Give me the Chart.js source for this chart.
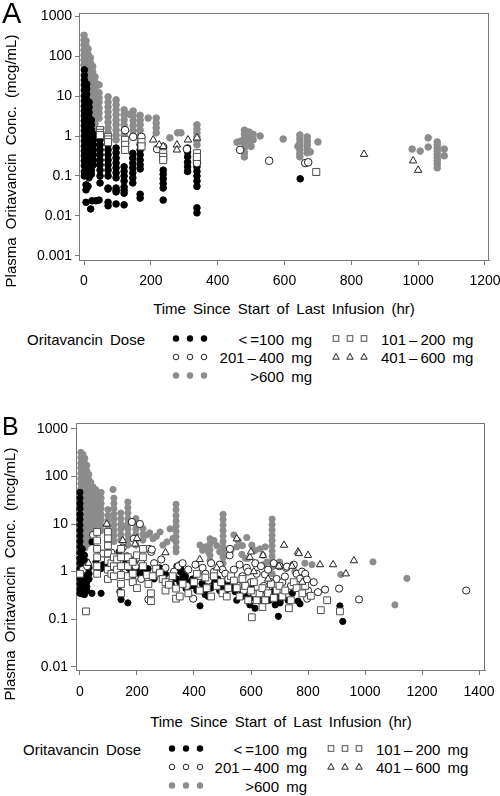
<!DOCTYPE html>
<html><head><meta charset="utf-8">
<script src="https://cdn.jsdelivr.net/npm/chart.js@4.4.1/dist/chart.umd.min.js"></script>
<style>
html,body{margin:0;padding:0;background:#fff;}
body{width:500px;height:796px;overflow:hidden;position:relative;font-family:"Liberation Sans",Arial,Helvetica,sans-serif;color:#000;}
.abs{position:absolute;white-space:nowrap;}
.t15{font-size:15px;line-height:18px;word-spacing:3px;}
.ytitle{width:300px;text-align:center;transform:rotate(-90deg);transform-origin:150px 9px;word-spacing:4px;}
canvas{position:absolute;left:0;}
#svgLeg{position:absolute;left:0;top:0;}
</style></head><body>
<canvas id="cA" width="500" height="300" style="top:0;width:500px;height:300px"></canvas>
<canvas id="cB" width="500" height="310" style="top:400px;width:500px;height:310px"></canvas>
<div class="abs" style="left:2px;top:-1px;font-size:29px;line-height:29px">A</div>
<div class="abs" style="left:2px;top:414px;font-size:25px;line-height:25px">B</div>
<div id="ytA" class="abs t15 ytitle"></div>
<div id="ytB" class="abs t15 ytitle"></div>
<div id="xtA" class="abs t15" style="top:300px;width:500px;left:34px;text-align:center"></div>
<div id="xtB" class="abs t15" style="top:713px;width:500px;left:31px;text-align:center"></div>
<div id="legA"></div>
<div id="legB"></div>
<svg id="svgLeg" width="500" height="796"></svg>
<script>
// ---------- text ----------
const yAxisTitle = 'Plasma Oritavancin Conc. (mcg/mL)';
const xAxisTitle = 'Time Since Start of Last Infusion (hr)';
const legendTitle = 'Oritavancin Dose';
const doseNames = ['<\u2009=100 mg', '101\u2009\u2013\u2009200 mg', '201\u2009\u2013\u2009400 mg', '401\u2009\u2013\u2009600 mg', '>600 mg'];

// ---------- ticks ----------
const xTicksA = [0, 200, 400, 600, 800, 1000, 1200];
const yTicksA = [0.001, 0.01, 0.1, 1, 10, 100, 1000];
const yTickLabelsA = ['0.001', '0.01', '0.1', '1', '10', '100', '1000'];
const xTicksB = [0, 200, 400, 600, 800, 1000, 1200, 1400];
const yTicksB = [0.01, 0.1, 1, 10, 100, 1000];
const yTickLabelsB = ['0.01', '0.1', '1', '10', '100', '1000'];

// ---------- data: [time (hr), [concentrations (mcg/mL)...]] ----------
// Panel A
const aLe100 = [
 [1,[45,33,25,19,14,10,7.5,5.6,4.2,3.2,2.4,1.8,1.35,1,0.75,0.56,0.42,0.32,0.24,0.18,0.13,0.1]],
 [8,[20,15,11,8,6,4.5,3.4,2.5,1.9,1.4,1.05,0.8,0.6,0.45,0.34,0.25,0.19,0.14,0.11]],
 [15,[7,5.2,3.9,2.9,2.2,1.6,1.2,0.9,0.68,0.5,0.38,0.28,0.21,0.16,0.12,0.09]],
 [22,[2.5,1.9,1.4,1.05,0.8,0.6,0.45,0.34,0.25,0.19,0.14,0.11]],
 [28,[1.1,0.8,0.6,0.45,0.34,0.25,0.19]],
 [48,[0.8,0.6,0.45,0.34,0.25,0.19,0.14,0.1,0.067]],
 [72,[0.6,0.45,0.34,0.25,0.19,0.14,0.1,0.05,0.047,0.022,0.018]],
 [96,[0.5,0.38,0.28,0.21,0.16,0.12,0.09,0.05,0.044,0.04,0.02]],
 [120,[0.17,0.13,0.1,0.075,0.053,0.044,0.037,0.019]],
 [146,[0.37,0.28,0.21,0.16,0.12,0.09,0.067]],
 [168,[0.6,0.45,0.34,0.25,0.19,0.15,0.035,0.028]],
 [6,[0.06,0.045,0.022]],[12,[0.055]],[20,[0.015]],[24,[0.024]],[36,[0.024]],[45,[0.025]],
 [237,[0.14,0.11,0.085,0.065,0.05,0.025]],
 [310,[0.5,0.4,0.3,0.22,0.17,0.13]],
 [338,[0.3,0.23,0.17,0.13,0.1,0.075,0.055,0.016,0.012]],
 [647,[0.085]]
];
const aSq101 = [
 [48,[1.4,1.2,1.06]],[72,[0.95,0.82,0.7]],[123,[0.8,0.6,0.45]],[172,[0.7,0.55]],
 [237,[0.37,0.3,0.25]],[338,[0.37,0.3]],[695,[0.126]]
];
const aCi201 = [
 [123,[1.4,0.67]],[147,[0.95]],[172,[0.95]],[219,[0.47]],[237,[0.53]],[308,[0.47]],
 [338,[0.25,0.21]],[467,[0.45]],[554,[0.24]],[662,[0.21]],[671,[0.22]]
];
const aTr401 = [
 [207,[0.8]],[225,[0.6]],[237,[0.55]],[278,[0.6,0.45]],[311,[0.8]],[338,[0.9]],
 [838,[0.35]],[985,[0.24]],[1000,[0.14]]
];
const aGt600 = [
 [0,[330,250,190,140,105,80,60]],
 [6,[240,180,135,100,75,56,42,32,24]],
 [12,[150,110,82,62,46,35,26,20,15,11,8]],
 [19,[90,68,50,38,28,21,16,12,9,7,5,3.8]],
 [26,[55,40,30,22,16,12,9,7,5,3.8,2.8]],
 [33,[30,22,16,12,9,7,5,3.8,2.8,2,1.5]],
 [45,[19,12,9,7,5,3.8,2.8]],
 [72,[9.5,7,5.3,4,3,2.2,1.6,1.2]],
 [96,[8,6,4.5,3.4,2.5,1.9,1.4,1.05,0.8]],
 [120,[4.5,3.4,2.5,1.9,1.4,1.05]],
 [135,[3.5]],
 [147,[4.2,3.2,2.4,1.8,1.35,1.0]],
 [168,[3.3,2.5,1.9,1.4,1.05,0.8,0.67]],
 [192,[2.8]],
 [216,[2.8,2.1,1.6,1.2]],
 [257,[0.9]],[280,[1.2]],[290,[1.2]],
 [338,[1.9,1.5,1.2,0.95,0.75,0.6]],
 [458,[0.7]],[470,[0.75]],
 [480,[1.4,1.1,0.85,0.65,0.5,0.38,0.3]],
 [494,[1.26,0.95,0.7]],[500,[0.55]],[506,[1.1,0.8]],[527,[1.0]],
 [596,[0.84]],[640,[0.55]],
 [646,[1.06,0.85,0.68,0.55,0.45,0.36,0.3]],
 [668,[0.95,0.75,0.6,0.47,0.38]],[677,[0.4]],[700,[0.71]],
 [982,[0.47]],[1006,[0.42]],[1030,[0.9,0.53]],
 [1057,[0.71,0.6,0.5,0.42,0.35,0.29,0.24,0.2,0.16]],
 [1078,[0.47,0.32]]
];
// Panel B
const bLe100 = [
 [0,[46,35,27,21,16,12.5,9.5,7.3,5.6,4.3,3.3,2.5,1.9,1.5,1.15,0.9,0.7,0.55,0.43,0.35]],
 [8,[3,2.3,1.8,1.4,1.1,0.85,0.66,0.52,0.42,0.34]],
 [16,[2.2,1.7,1.3,1.0,0.8,0.62,0.5,0.4,0.33]],
 [24,[1.6,1.2,0.95,0.75,0.6,0.48,0.4]],
 [32,[1.2,0.9,0.7]],
 [42,[4.2,0.35]],[56,[1.6]],[64,[1.3]],[74,[1.15,0.35]],[81,[1.4]],
 [98,[3.6,2.6,1.9,1.4]],[110,[1.2,0.8]],[125,[1.0]],
 [137,[2.6]],[150,[2.0]],[160,[1.5]],[170,[1.2]],[179,[1.0]],[144,[0.26]],[168,[0.22]],[140,[0.38]],
 [185,[0.8]],[190,[1.6]],[200,[1.2]],[210,[0.9]],[221,[1.0]],[239,[1.15]],[260,[0.7]],[280,[1.2]],
 [291,[0.87]],[300,[0.9]],[310,[0.75]],[320,[0.55]],[330,[1.0]],
 [337,[0.71]],[340,[1.3]],[350,[0.6]],[351,[1.4,1.0]],[355,[1.1]],[360,[0.75,0.9]],[370,[0.8,0.65]],
 [372,[0.44]],[380,[0.6]],[385,[0.5]],[386,[0.55]],[395,[0.7]],[400,[0.5]],[410,[0.4]],
 [421,[0.19]],[428,[0.56]],[439,[0.33]],[450,[0.3]],[460,[0.45]],[470,[0.6]],[484,[0.7,0.55]],[490,[0.4]],
 [502,[0.49]],[510,[0.35]],[520,[0.6]],[530,[0.5]],[544,[0.38]],[550,[0.25]],[560,[0.45]],[570,[0.35]],
 [580,[0.3]],[596,[0.27,0.2]],[600,[0.5]],[614,[0.17]],[620,[0.28]],[630,[0.3]],[640,[0.22]],[650,[0.4]],
 [656,[0.3]],[665,[0.25]],[677,[0.38]],[685,[0.2]],[690,[0.32]],[696,[0.115]],[702,[0.24,0.22]],
 [710,[0.3]],[730,[0.25]],[745,[0.35]],
 [765,[0.24]],[772,[0.21]],[912,[0.19]],[922,[0.09]]
];
const bSq101 = [
 [21,[0.146]],[0,[0.9]],
 [60,[6.8,4.5,3,2,1.3,0.9]],
 [98,[6.8,5,3.5,2.4,1.7,1.1,0.7]],
 [110,[1.5,0.9]],[119,[2.0,1.3,0.8]],[130,[1.8,1.1]],
 [144,[3,2,1.3,0.85,0.55,0.35]],
 [168,[2.0,1.3,0.8]],[185,[1.6,0.9,0.6]],[200,[2.2,0.45]],
 [221,[3,2,1.3]],
 [235,[0.85]],[240,[0.55]],[249,[0.35,0.24]],[255,[0.8]],[267,[1.15]],[280,[0.95]],[290,[0.7]],
 [300,[0.6,0.4]],[312,[0.53]],[325,[0.8]],
 [337,[0.44,0.27]],[350,[0.3]],[360,[0.55]],[380,[0.35]],[400,[0.6]],[410,[0.9]],[420,[0.4]],
 [440,[0.75]],[445,[0.45]],[460,[0.3]],[470,[0.8]],
 [480,[0.5]],[495,[0.6]],[500,[0.35]],[515,[0.3]],[520,[0.45]],[530,[0.8]],[540,[0.65]],[550,[0.45]],
 [560,[0.3]],[570,[0.7]],[580,[0.5]],[590,[0.25]],[600,[0.4]],[610,[0.6]],
 [603,[0.11]],[620,[0.25]],[630,[0.35]],[640,[0.45,0.18]],[650,[0.25]],[660,[0.35]],[670,[0.55]],
 [680,[0.28]],[690,[0.4]],[700,[0.5]],[710,[0.3]],[720,[0.4]],
 [733,[0.17]],[740,[0.25]],[750,[0.6]],[760,[0.45]],[780,[0.35]],[790,[0.5]],[810,[0.31]],
 [845,[0.155]],[867,[0.25]],[912,[0.146]]
];
const bCi201 = [
 [10,[1.1]],[25,[1.3]],[46,[5.9]],[60,[3.0]],[80,[2.4]],[98,[4.5]],[110,[2.5,1.0]],[128,[1.6]],
 [140,[1.2]],[150,[3.2]],[165,[2.1]],[175,[1.8]],[182,[11]],[186,[0.62]],[189,[4.9]],[195,[1.3]],
 [210,[10]],[215,[1.5,0.7]],[240,[0.26]],[242,[3]],
 [250,[2.6]],[252,[2.9]],[260,[1.5]],[270,[0.9]],[285,[1.8]],[300,[1.2]],[315,[0.7]],[330,[1.0]],
 [345,[1.3]],[360,[1.5]],[375,[0.5]],[380,[1.1]],[397,[0.27]],[405,[1.4]],
 [420,[0.8]],[430,[1.2]],[440,[0.9]],[450,[0.65]],[460,[1.5]],[470,[1.0]],[490,[1.4]],[500,[1.1]],
 [510,[0.9]],[520,[0.7]],[525,[2.2]],[526,[3.0]],
 [540,[1.1]],[555,[0.5]],[560,[1.4]],[570,[0.8]],[575,[0.4]],[585,[1.2]],[590,[1.0]],[600,[0.6]],
 [610,[0.35]],[615,[1.5]],[620,[0.9]],[635,[1.3]],
 [645,[0.5]],[649,[0.87]],[655,[0.4]],[660,[1.1]],[670,[0.6]],[680,[1.5]],[690,[0.7]],[700,[1.3]],
 [710,[0.6]],[719,[0.79]],[723,[1.2]],
 [726,[1.27]],[740,[0.5]],[750,[1.4]],[760,[0.9]],[772,[0.71]],[779,[1.0]],[790,[0.9]],[796,[0.68]],
 [797,[0.27]],[800,[0.4]],[820,[0.6]],
 [835,[0.37]],[860,[0.42]],[909,[0.44]],[979,[0.26]],[1355,[0.4]]
];
const bTr401 = [
 [30,[1.5]],[94,[10]],[150,[4.5]],[193,[3.8]],[200,[5]],[300,[2.5]],[420,[1.8]],[480,[1.2]],
 [550,[4.9]],[596,[2.0]],[600,[2.6]],[610,[1.0]],[642,[2.2]],[660,[0.7]],[698,[1.3]],[716,[3.6]],
 [744,[1.3]],[765,[2.6]],[768,[2.4]],[780,[0.6]],[800,[2.2]],[842,[1.4]],[888,[1.4]],[933,[0.9]],[961,[1.7]]
];
const bGt600 = [
 [3,[320,250,190,150,115,90,70,55]],
 [10,[290,220,170,130,100,78,60,47,36,28,22,17,13,10,8,6.2,4.8,3.7]],
 [17,[240,185,145,110,85,66,51,40,31,24,18,14,11,8.5,6.6,5.1,4,3.1]],
 [24,[170,130,100,78,60,47,36,28,22,17,13,10,8,6.2,4.8,3.7]],
 [31,[110,85,66,51,40,31,24,18,14,11,8.5,6.6,5.1,4]],
 [38,[75,58,45,35,27,21,16,12.5,9.5,7.3,5.6]],
 [46,[60,46,36,28,22,17,13,10,7.8]],
 [55,[53,40,31,24,18,14,11,8.5,6.6]],
 [63,[45,34,26,20,15,11.5,9,7]],
 [74,[46,35,27,21,16,12.5,9.5,7.3]],
 [98,[20,15,11.5,9,7,5.4,4.2]],
 [116,[53]],
 [119,[35,27,21,16,12.5,9.5,7.3,5.6,4.3]],
 [143,[17,13,10,7.8,6,4.6]],[151,[9]],
 [168,[29,22,17,13,10,7.8,6,4.6,3.6]],
 [196,[13,10,7.8,6,4.6,3.6]],
 [221,[8,6,4.6]],
 [235,[5.9]],[245,[6.5]],[256,[4.9]],[268,[5.5]],[281,[6.8]],[291,[3.6]],[305,[4.2]],[316,[7.9]],[326,[5]],
 [337,[26,20,15,11.5,9,7,5.4,4.2,3.2,2.6]],
 [421,[3.6]],[430,[2.8]],[440,[3.3]],[452,[2.5]],[456,[4.9,3.8,2.9,2.2,1.7]],[470,[4.5]],[480,[3.5]],[490,[2.6]],
 [502,[16,12.5,9.5,7.3,5.6,4.3,3.3,2.6,2,1.5]],
 [530,[2.8]],[540,[5.9]],[550,[3.3]],[555,[4.5]],[568,[2.3]],[570,[3.5]],[580,[1.9]],[585,[5.2]],[590,[1.9]],
 [603,[3.6]],[615,[2.8]],[632,[3.0]],[642,[2.2]],[645,[1.4]],[650,[3.3]],[656,[1.6]],
 [674,[12.7,9.8,7.5,5.8,4.5,3.5,2.7,2.1,1.6,1.25,0.9]],
 [700,[1.6]],[754,[1.0]],[789,[1.5]],[814,[1.4]],[915,[0.87]],[1028,[1.6]],[1105,[0.2]],[1147,[0.72]]
];

// ---------- styling ----------
const GRAY = '#8c8c8c';
const AXIS = '#7a7a7a';
const styles = [ // order matches doseNames
 {shape:'circle', fill:'#000', line:'#000', order:3},
 {shape:'rect', fill:'#fff', line:'#505050', order:1},
 {shape:'circle', fill:'#fff', line:'#222', order:2},
 {shape:'triangle', fill:'#fff', line:'#222', order:0},
 {shape:'circle', fill:GRAY, line:GRAY, order:4}
];

function toPoints(cols){ return cols.flatMap(([x, ys]) => ys.map(y => ({x, y}))); }

function makeDatasets(seriesList, r){
  return seriesList.map((cols, i) => {
    const s = styles[i];
    let rad = r.circle;
    if (s.shape === 'rect') rad = r.rect;
    if (s.shape === 'triangle') rad = r.tri;
    const filled = (i === 0 || i === 4);
    return {
      label: doseNames[i], data: toPoints(cols), showLine:false,
      pointStyle: s.shape, pointRadius: filled ? r.circle - 0.5 : rad,
      pointBackgroundColor: s.fill, pointBorderColor: s.line, pointBorderWidth: 1,
      pointHoverRadius: rad, order: s.order
    };
  });
}

const framePlugin = {
  id:'frame',
  beforeDatasetsDraw(c){
    const a = c.chartArea, ctx = c.ctx;
    ctx.save(); ctx.strokeStyle = AXIS; ctx.lineWidth = 1;
    ctx.strokeRect(Math.round(a.left)+0.5, Math.round(a.top)+0.5, Math.round(a.right-a.left)-1, Math.round(a.bottom-a.top));
    ctx.restore();
  }
};

function makeChart(id, datasets, cfg){
  return new Chart(document.getElementById(id), {
    type:'scatter',
    data:{datasets},
    plugins:[framePlugin],
    options:{
      responsive:false, animation:false, devicePixelRatio:1,
      layout:{padding:{left:0, top:cfg.padTop, right:cfg.padRight, bottom:0}},
      plugins:{legend:{display:false}, tooltip:{enabled:false}},
      scales:{
        x:{
          type:'linear', min:cfg.xMin, max:cfg.xMax,
          afterBuildTicks(s){ s.ticks = cfg.xTicks.map(v => ({value:v})); },
          afterFit(s){ s.height = cfg.xH; s.paddingLeft = 0; s.paddingRight = 0; },
          ticks:{autoSkip:false, maxRotation:0, padding:cfg.xPad, color:'#000',
                 font:{family:'"Liberation Sans", Arial, sans-serif', size:14},
                 callback:(v)=>String(v)},
          grid:{drawOnChartArea:false, drawTicks:true, tickLength:5, color:AXIS},
          border:{display:true, color:AXIS, width:1}
        },
        y:{
          type:'logarithmic', min:cfg.yMin, max:cfg.yMax,
          afterBuildTicks(s){ s.ticks = cfg.yTicks.map(v => ({value:v})); },
          afterFit(s){ s.width = cfg.yW; s.paddingTop = 0; s.paddingBottom = 0; },
          ticks:{autoSkip:false, padding:cfg.yPad, color:'#000',
                 font:{family:'"Liberation Sans", Arial, sans-serif', size:14},
                 callback:(v)=>{ const k = cfg.yTicks.indexOf(v); return k >= 0 ? cfg.yLabels[k] : ''; }},
          grid:{drawOnChartArea:false, drawTicks:true, tickLength:cfg.yTL, color:AXIS},
          border:{display:true, color:AXIS, width:1}
        }
      }
    }
  });
}

makeChart('cA', makeDatasets([aLe100, aSq101, aCi201, aTr401, aGt600], {circle:3.8, rect:5, tri:4.3}), {
  padTop:13, padRight:11, xMin:-15, xMax:1212, xTicks:xTicksA, xH:40, xPad:8,
  yMin:0.000794, yMax:1189, yTicks:yTicksA, yLabels:yTickLabelsA, yW:79, yPad:3, yTL:4
});
makeChart('cB', makeDatasets([bLe100, bSq101, bCi201, bTr401, bGt600], {circle:3.6, rect:4.8, tri:4.2}), {
  padTop:23, padRight:15, xMin:-14, xMax:1421, xTicks:xTicksB, xH:40, xPad:9,
  yMin:0.00857, yMax:1324, yTicks:yTicksB, yLabels:yTickLabelsB, yW:76, yPad:3, yTL:5
});

// ---------- titles ----------
function placeYTitle(id, cx, cy){
  const el = document.getElementById(id);
  el.textContent = yAxisTitle;
  el.style.left = (cx - 150) + 'px';
  el.style.top = (cy - 9) + 'px';
}
placeYTitle('ytA', 11, 161);
placeYTitle('ytB', 10, 574);
document.getElementById('xtA').textContent = xAxisTitle;
document.getElementById('xtB').textContent = xAxisTitle;

// ---------- legends ----------
const svg = document.getElementById('svgLeg');
const NS = 'http://www.w3.org/2000/svg';
function mk(tag, attrs){ const e = document.createElementNS(NS, tag); for (const k in attrs) e.setAttribute(k, attrs[k]); svg.appendChild(e); }
function marker(i, cx, cy){
  const s = styles[i];
  if (s.shape === 'circle'){
    const filled = (i === 0 || i === 4);
    mk('circle', {cx, cy, r: filled ? 3.2 : 2.8, fill:s.fill, stroke:s.line, 'stroke-width': filled ? 0 : 1});
  } else if (s.shape === 'rect'){
    mk('rect', {x:cx-2.8, y:cy-2.8, width:5.6, height:5.6, fill:'#fff', stroke:s.line, 'stroke-width':1});
  } else {
    mk('polygon', {points:`${cx},${cy-3.6} ${cx+3.2},${cy+2.2} ${cx-3.2},${cy+2.2}`, fill:'#fff', stroke:s.line, 'stroke-width':1});
  }
}
function legend(hostId, L){
  const host = document.getElementById(hostId);
  const add = (txt, css) => { const d = document.createElement('div'); d.className = 'abs t15'; d.textContent = txt; Object.assign(d.style, css); host.appendChild(d); };
  add(legendTitle, {left:L.titleX+'px', top:L.rowsTop[0]+'px'});
  // [dose index, column, row]
  const layout = [[0,0,0],[1,1,0],[2,0,1],[3,1,1],[4,0,2]];
  layout.forEach(([i, col, row]) => {
    const mx = col === 0 ? L.m1 : L.m2;
    mx.forEach(x => marker(i, x, L.mCy[row]));
    if (col === 0) add(doseNames[i], {right:(500 - L.t1Right)+'px', top:L.rowsTop[row]+'px', textAlign:'right'});
    else add(doseNames[i], {left:L.t2Left+'px', top:L.rowsTop[row]+'px'});
  });
}
legend('legA', {titleX:27, rowsTop:[331,349,368], mCy:[338.5,357,375.5], m1:[176,190,204], m2:[336,350,364], t1Right:312, t2Left:381});
legend('legB', {titleX:23, rowsTop:[741,759,778], mCy:[748.5,767,785.5], m1:[172,186,200], m2:[331,345,359], t1Right:307, t2Left:376});
</script>
</body></html>
